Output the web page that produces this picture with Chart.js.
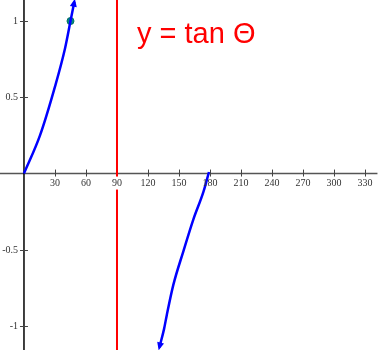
<!DOCTYPE html>
<html>
<head>
<meta charset="utf-8">
<script src="https://cdn.jsdelivr.net/npm/chart.js@4"></script>
<style>
  body { margin: 0; background: #fff; }
  #wrap { width: 388px; height: 350px; }
</style>
</head>
<body>
<div id="wrap"><canvas id="tanChart"></canvas></div>
<script>
// values (degrees / tan value)
const xTicks = [30, 60, 90, 120, 150, 180, 210, 240, 270, 300, 330];
const yTicks = [1, 0.5, -0.5, -1];
const branch1X = [0, 15.5, 30, 39.7, 45, 48.7];
const branch1Y = [0, 0.25, 0.57, 0.82, 1, 1.127];
const branch2X = [131, 135.5, 138.1, 144.5, 154.2, 163.9, 173.6, 179];
const branch2Y = [-1.14, -1.02, -0.93, -0.73, -0.51, -0.3, -0.12, 0.01];
const markX = [45];
const markY = [1];
const asymptoteX = 90;
const titleText = 'y = tan \u0398';

const toPoints = (xs, ys) => xs.map((x, i) => ({ x: x, y: ys[i] }));

const axesPlugin = {
    id: 'axesPlugin',
    beforeDatasetsDraw(chart) {
        const { ctx, scales: { x, y } } = chart;
        const x0 = x.getPixelForValue(0);
        const y0 = y.getPixelForValue(0);
        ctx.save();
        // x axis
        ctx.strokeStyle = '#555';
        ctx.lineWidth = 1.5;
        ctx.beginPath();
        ctx.moveTo(0, y0);
        ctx.lineTo(x.getPixelForValue(342), y0);
        ctx.stroke();
        // y axis
        ctx.strokeStyle = '#000';
        ctx.beginPath();
        ctx.moveTo(x0, 0);
        ctx.lineTo(x0, chart.height);
        ctx.stroke();
        // ticks
        ctx.strokeStyle = '#444';
        ctx.lineWidth = 1;
        ctx.font = '10px "Liberation Serif", "DejaVu Serif", serif';
        ctx.fillStyle = '#333';
        xTicks.forEach(t => {
            const px = Math.round(x.getPixelForValue(t)) + 0.5;
            ctx.beginPath();
            ctx.moveTo(px, y0 - 4);
            ctx.lineTo(px, y0 + 3);
            ctx.stroke();
        });
        yTicks.forEach(t => {
            const py = Math.round(y.getPixelForValue(t)) + 0.5;
            ctx.beginPath();
            ctx.moveTo(x0 - 4, py);
            ctx.lineTo(x0 + 4, py);
            ctx.stroke();
            ctx.textAlign = 'right';
            ctx.textBaseline = 'middle';
            ctx.fillText(String(t), x0 - 6, py);
        });
        ctx.restore();
    },
    afterDatasetsDraw(chart) {
        const { ctx, scales: { x, y } } = chart;
        const y0 = y.getPixelForValue(0);
        ctx.save();
        // x tick labels with white backing (cuts the red line)
        ctx.font = '10px "Liberation Serif", "DejaVu Serif", serif';
        ctx.textAlign = 'center';
        ctx.textBaseline = 'middle';
        xTicks.forEach(t => {
            const px = x.getPixelForValue(t);
            const w = ctx.measureText(String(t)).width;
            if (t === asymptoteX) {
                ctx.fillStyle = '#fff';
                ctx.fillRect(px - w / 2 - 1, y0 + 3, w + 2, 13);
            }
            ctx.fillStyle = '#333';
            ctx.fillText(String(t), px, y0 + 10);
        });
        // arrow heads at branch ends
        const arrow = (xs, ys, tip, prev) => {
            const tx = x.getPixelForValue(xs[tip]), ty = y.getPixelForValue(ys[tip]);
            const px = x.getPixelForValue(xs[prev]), py = y.getPixelForValue(ys[prev]);
            const a = Math.atan2(ty - py, tx - px);
            ctx.fillStyle = '#0000ff';
            ctx.beginPath();
            ctx.moveTo(tx + Math.cos(a) * 3, ty + Math.sin(a) * 3);
            ctx.lineTo(tx - Math.cos(a) * 5 + Math.cos(a + Math.PI / 2) * 3.5, ty - Math.sin(a) * 5 + Math.sin(a + Math.PI / 2) * 3.5);
            ctx.lineTo(tx - Math.cos(a) * 5 - Math.cos(a + Math.PI / 2) * 3.5, ty - Math.sin(a) * 5 - Math.sin(a + Math.PI / 2) * 3.5);
            ctx.closePath();
            ctx.fill();
        };
        arrow(branch1X, branch1Y, branch1X.length - 1, branch1X.length - 2);
        arrow(branch2X, branch2Y, 0, 1);
        // title
        ctx.fillStyle = '#ff0000';
        ctx.font = '29px "Liberation Sans", Arial, sans-serif';
        ctx.textAlign = 'left';
        ctx.textBaseline = 'alphabetic';
        ctx.fillText(titleText, 137, 43);
        ctx.restore();
    }
};

new Chart(document.getElementById('tanChart').getContext('2d'), {
    type: 'scatter',
    data: {
        datasets: [
            {
                data: [{ x: asymptoteX, y: -2 }, { x: asymptoteX, y: 2 }],
                showLine: true,
                borderColor: '#ff0000',
                borderWidth: 2,
                pointRadius: 0
            },
            {
                data: toPoints(branch1X, branch1Y),
                showLine: true,
                borderColor: '#0000ff',
                borderWidth: 2.5,
                cubicInterpolationMode: 'monotone',
                pointRadius: 0
            },
            {
                data: toPoints(branch2X, branch2Y),
                showLine: true,
                borderColor: '#0000ff',
                borderWidth: 2.5,
                cubicInterpolationMode: 'monotone',
                pointRadius: 0
            },
            {
                data: toPoints(markX, markY),
                backgroundColor: '#008b80',
                borderColor: '#007060',
                borderWidth: 1,
                pointRadius: 3.5
            }
        ]
    },
    options: {
        responsive: true,
        maintainAspectRatio: false,
        animation: false,
        layout: { padding: 0, autoPadding: false },
        plugins: { legend: { display: false }, tooltip: { enabled: false } },
        scales: {
            x: { type: 'linear', min: -23.2, max: 352.2, display: false },
            y: { type: 'linear', min: -1.157, max: 1.138, display: false }
        }
    },
    plugins: [axesPlugin]
});
</script>
</body>
</html>
